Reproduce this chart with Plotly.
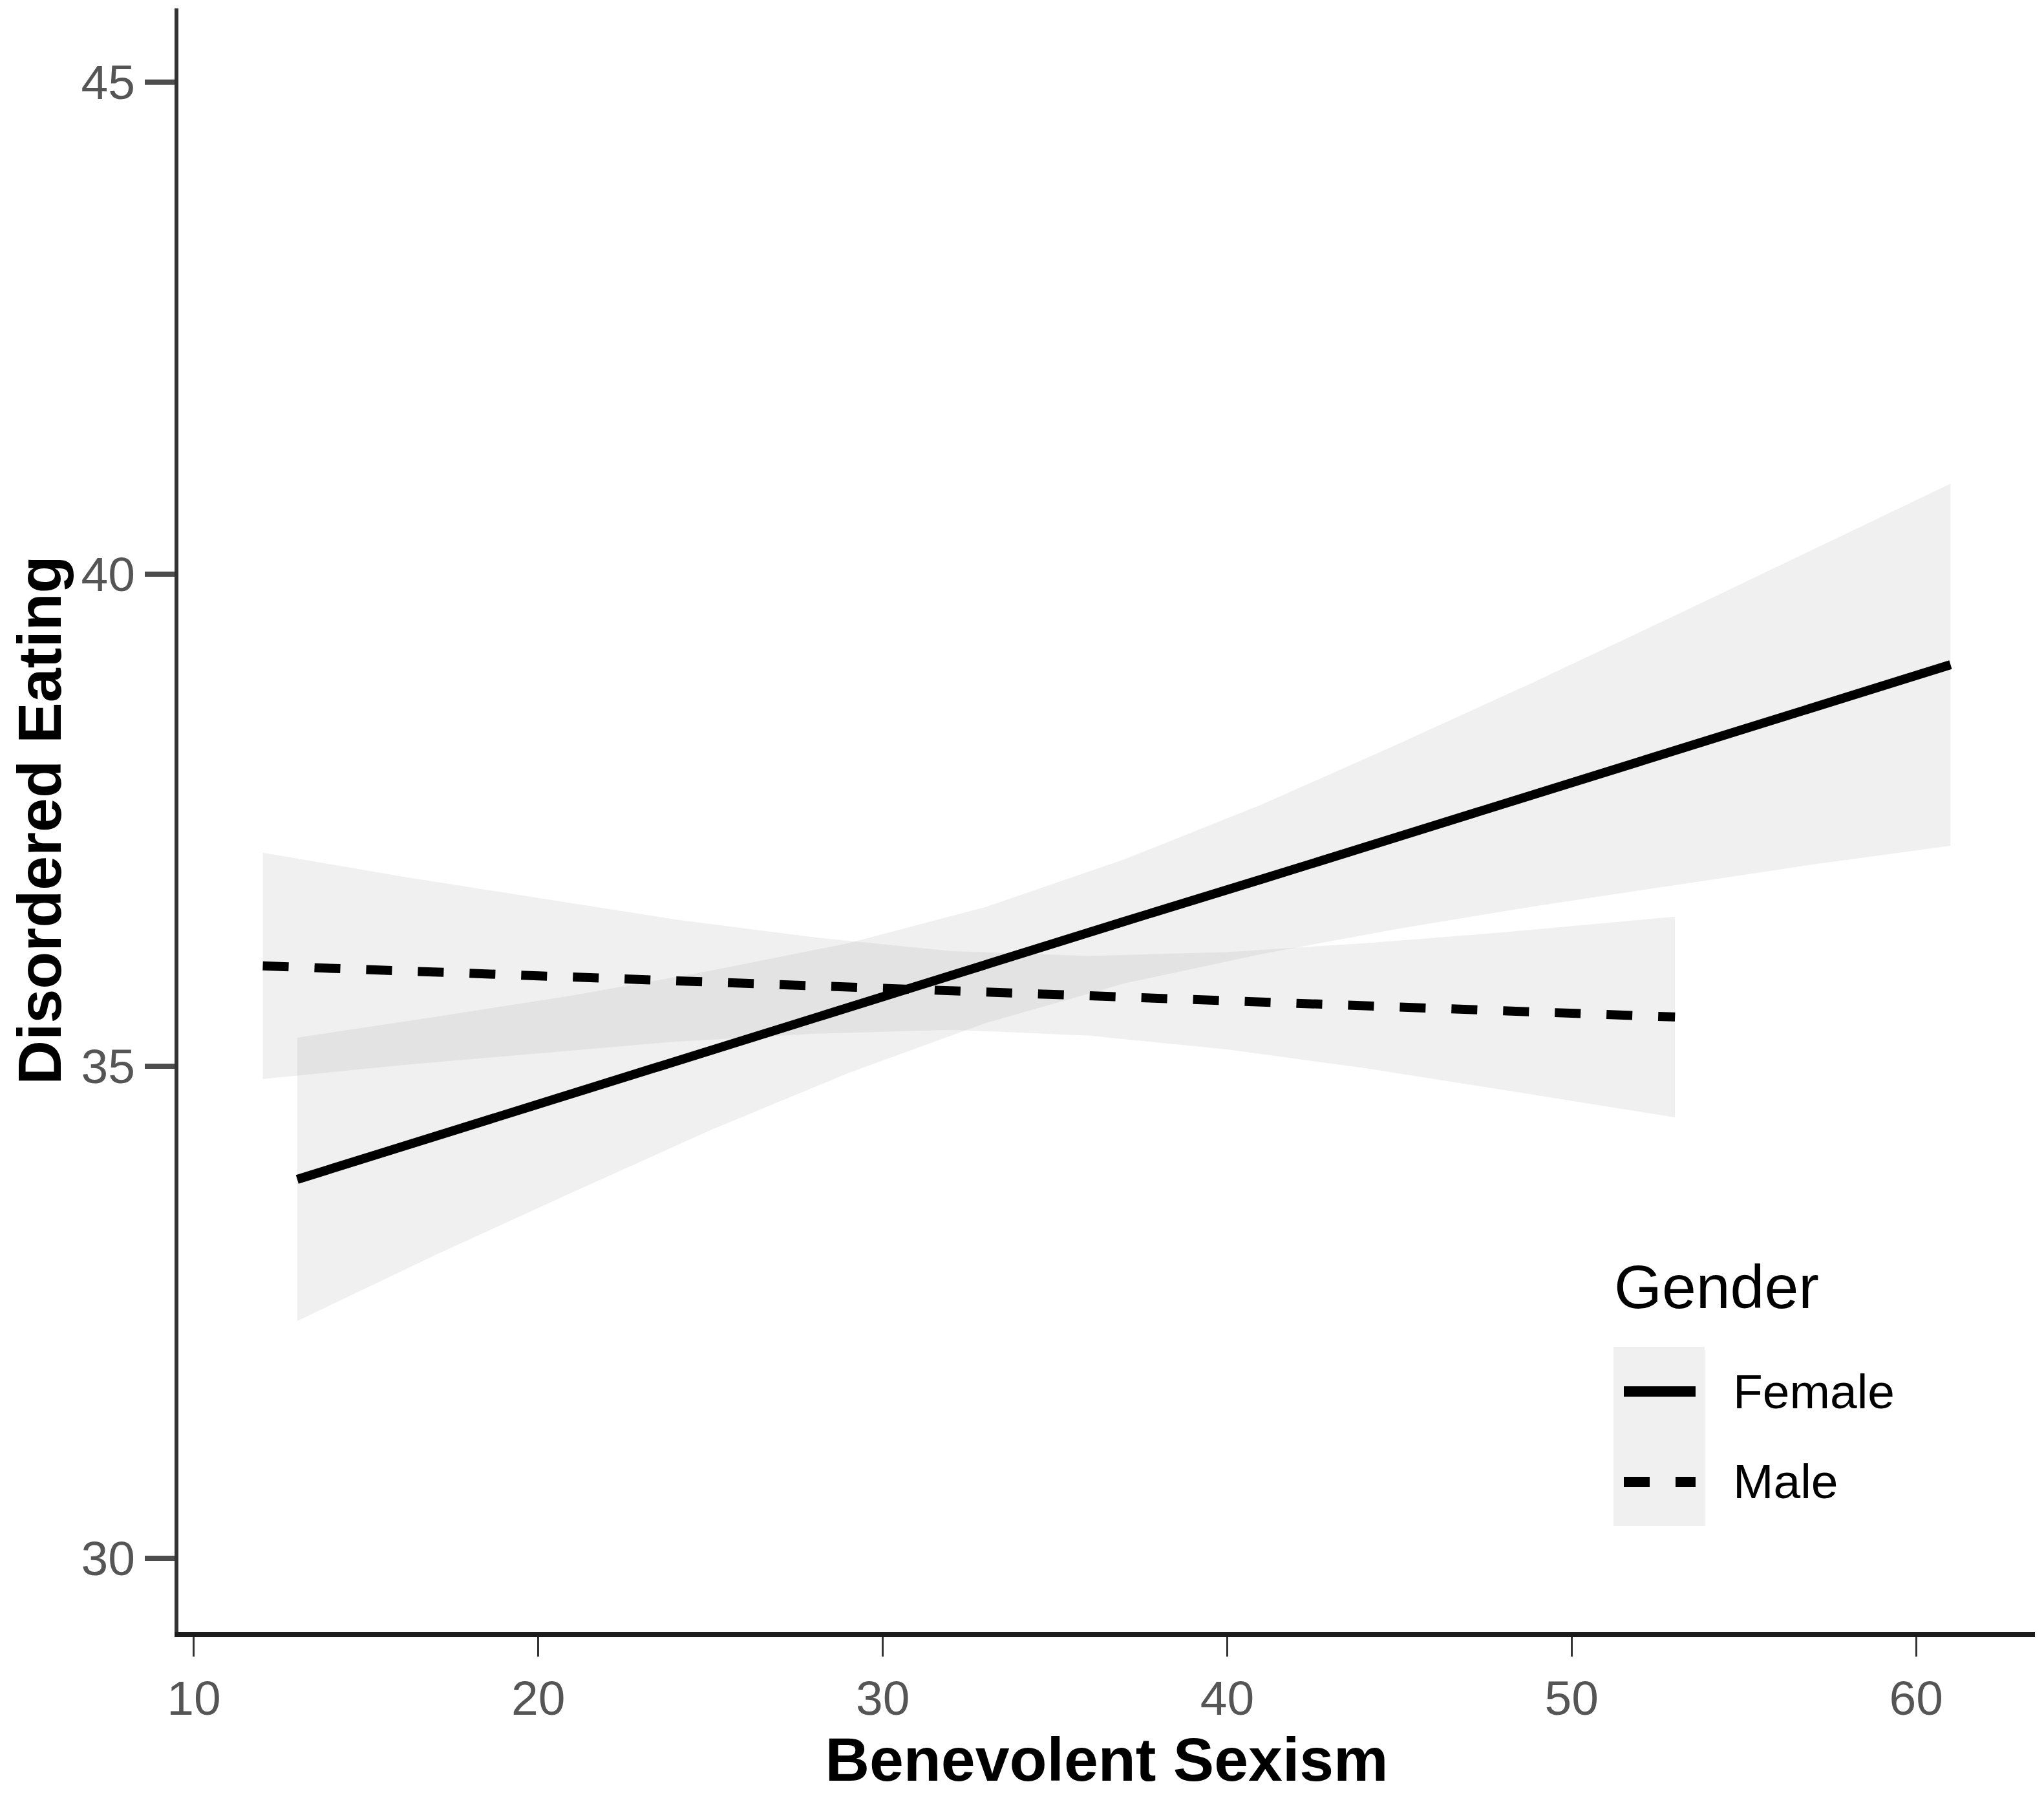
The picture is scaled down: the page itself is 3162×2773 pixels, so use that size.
import plotly.graph_objects as go

# ---- data ----
female_x = [13, 17, 21, 25, 29, 33, 37, 41, 45, 49, 53, 57, 61]
female_fit = [33.85, 34.29, 34.72, 35.16, 35.59, 36.03, 36.47, 36.90, 37.34, 37.77, 38.21, 38.65, 39.08]
female_upper = [35.29, 35.50, 35.72, 35.97, 36.25, 36.62, 37.10, 37.66, 38.28, 38.92, 39.58, 40.25, 40.92]
female_lower = [32.41, 33.08, 33.72, 34.35, 34.93, 35.44, 35.84, 36.14, 36.40, 36.63, 36.84, 37.05, 37.24]

male_x = [12, 16, 20, 24, 28, 32, 36, 40, 44, 48, 53]
male_fit = [36.02, 35.97, 35.92, 35.87, 35.82, 35.77, 35.71, 35.66, 35.61, 35.56, 35.50]
male_upper = [37.17, 36.93, 36.71, 36.49, 36.31, 36.17, 36.12, 36.16, 36.25, 36.36, 36.52]
male_lower = [34.87, 35.01, 35.13, 35.25, 35.33, 35.37, 35.31, 35.17, 34.98, 34.76, 34.48]

x_ticks = [10, 20, 30, 40, 50, 60]
y_ticks = [30, 35, 40, 45]

legend_title = "Gender"
legend_labels = ["Female", "Male"]
x_title = "Benevolent Sexism"
y_title = "Disordered Eating"

# ---- figure geometry ----
W, H = 3162, 2773
ML, MR, MT, MB = 268, 22, 5, 257
PW, PH = W - ML - MR, H - MT - MB
FONT = "Liberation Sans, Arial, sans-serif"
BAND = "rgba(153,153,153,0.15)"
# offset so legend pixel positions (measured in reference) map to this plot area
DX, DY = -7, -8


def px_x(p):
    return (p + DX - ML) / PW


def px_y(p):
    return (H - MB - (p + DY)) / PH


fig = go.Figure()

for xs, up, lo in [(female_x, female_upper, female_lower), (male_x, male_upper, male_lower)]:
    fig.add_trace(go.Scatter(
        x=xs + xs[::-1], y=up + lo[::-1], mode="lines", fill="toself",
        fillcolor=BAND, line=dict(width=0), hoverinfo="skip", showlegend=False))

fig.add_trace(go.Scatter(x=female_x, y=female_fit, mode="lines", name=legend_labels[0],
                         line=dict(color="black", width=14), showlegend=False))
fig.add_trace(go.Scatter(x=male_x, y=male_fit, mode="lines", name=legend_labels[1],
                         line=dict(color="black", width=14, dash="40px,40px"), showlegend=False))

# ---- hand-built legend (ggplot style with grey key background) ----
shapes = [
    dict(type="rect", xref="paper", yref="paper",
         x0=px_x(2495), x1=px_x(2636), y0=px_y(2360), y1=px_y(2083),
         fillcolor="#f0f0f0", line=dict(width=0), layer="below"),
    dict(type="line", xref="paper", yref="paper",
         x0=px_x(2511), x1=px_x(2622), y0=px_y(2152), y1=px_y(2152),
         line=dict(color="black", width=16)),
    dict(type="line", xref="paper", yref="paper",
         x0=px_x(2511), x1=px_x(2622), y0=px_y(2292), y1=px_y(2292),
         line=dict(color="black", width=16, dash="40px,40px")),
]
annotations = [
    dict(text=legend_title, xref="paper", yref="paper", x=px_x(2494), y=px_y(1990),
         xanchor="left", yanchor="middle", showarrow=False,
         font=dict(family=FONT, size=95, color="black")),
    dict(text=legend_labels[0], xref="paper", yref="paper", x=px_x(2678), y=px_y(2152),
         xanchor="left", yanchor="middle", showarrow=False,
         font=dict(family=FONT, size=75, color="black")),
    dict(text=legend_labels[1], xref="paper", yref="paper", x=px_x(2678), y=px_y(2291),
         xanchor="left", yanchor="middle", showarrow=False,
         font=dict(family=FONT, size=75, color="black")),
]

fig.update_layout(
    width=W, height=H,
    margin=dict(l=ML, r=MR, t=MT, b=MB, autoexpand=False),
    paper_bgcolor="white", plot_bgcolor="white",
    showlegend=False,
    shapes=shapes, annotations=annotations,
    font=dict(family=FONT),
)
fig.update_xaxes(
    range=[9.55, 63.45], tickvals=x_ticks, ticktext=[str(v) for v in x_ticks],
    showgrid=False, zeroline=False,
    showline=True, linecolor="#1a1a1a", linewidth=8,
    ticks="outside", ticklen=30, tickwidth=3, tickcolor="#333333",
    tickfont=dict(family=FONT, size=75, color="#555555"),
    title=dict(text="<b>" + x_title + "</b>", font=dict(family=FONT, size=95, color="black"), standoff=14),
)
fig.update_yaxes(
    range=[29.25, 45.75], tickvals=y_ticks, ticktext=[str(v) for v in y_ticks],
    showgrid=False, zeroline=False,
    showline=True, linecolor="#333333", linewidth=6,
    ticks="outside", ticklen=46, tickwidth=8, tickcolor="#4d4d4d",
    tickfont=dict(family=FONT, size=75, color="#555555"),
    title=dict(text="<b>" + y_title + "</b>", font=dict(family=FONT, size=95, color="black"), standoff=30),
)

fig.write_html("out.html")
